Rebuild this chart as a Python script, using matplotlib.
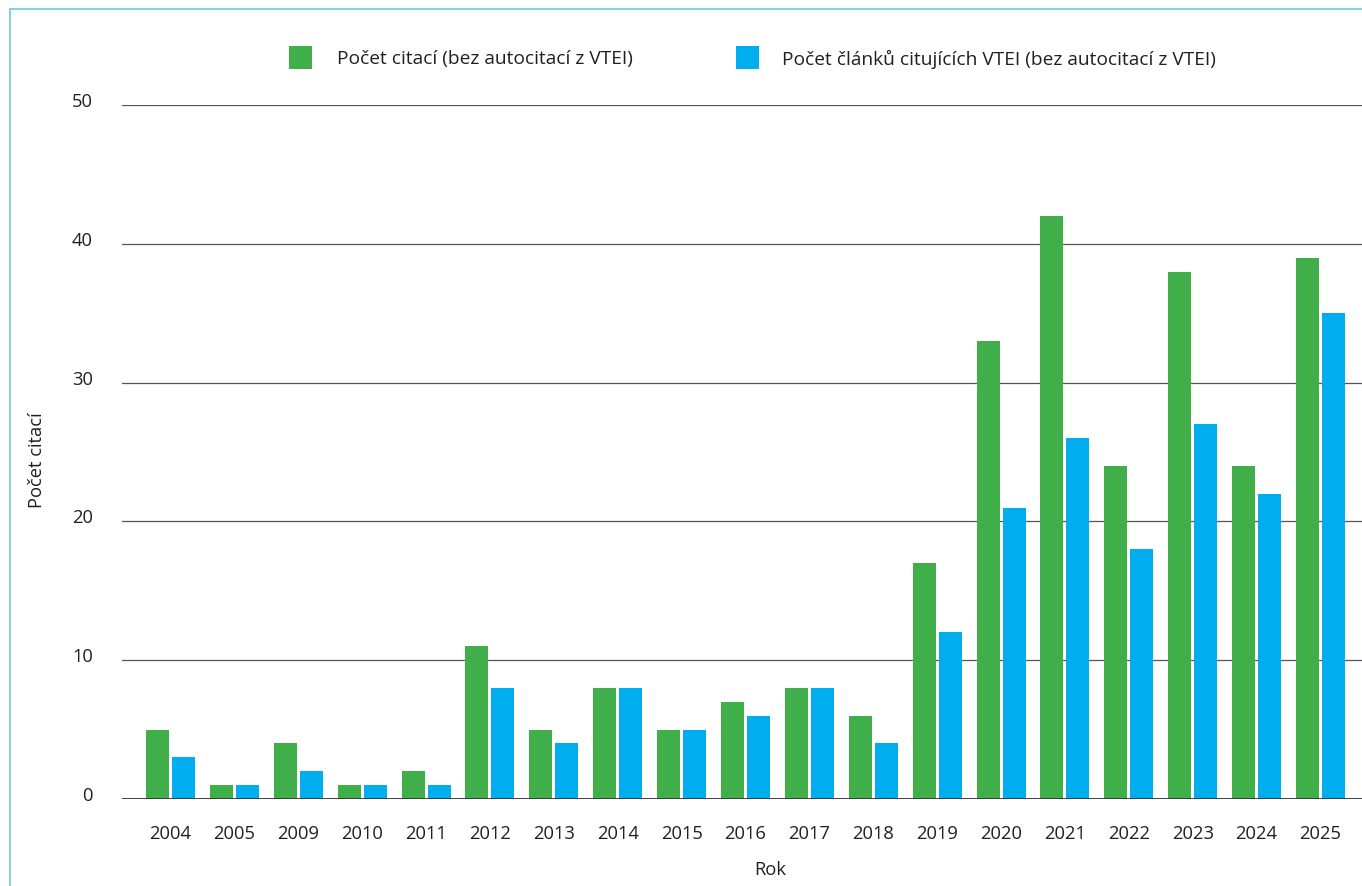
import matplotlib
matplotlib.use("Agg")
import matplotlib.pyplot as plt
import matplotlib.transforms as mtransforms
from matplotlib.patches import Rectangle
import numpy as np

years = ["2004", "2005", "2009", "2010", "2011", "2012", "2013", "2014", "2015", "2016",
         "2017", "2018", "2019", "2020", "2021", "2022", "2023", "2024", "2025"]
citations = [5, 1, 4, 1, 2, 11, 5, 8, 5, 7, 8, 6, 17, 33, 42, 24, 38, 24, 39]
citing_articles = [3, 1, 2, 1, 1, 8, 4, 8, 5, 6, 8, 4, 12, 21, 26, 18, 27, 22, 35]
series_labels = ["Počet citací (bez autocitací z VTEI)",
                 "Počet článků citujících VTEI (bez autocitací z VTEI)"]
y_ticks = [0, 10, 20, 30, 40, 50]

GREEN = "#40AE49"
BLUE = "#00AEEF"
TEXT = "#231F20"

plt.rcParams['font.family'] = ['Open Sans', 'DejaVu Sans']

W, H = 1362, 887
fig = plt.figure(figsize=(W / 100, H / 100), dpi=100)
fig.patch.set_facecolor("white")

# frame (teal border on left and top)
fig.add_artist(Rectangle((10 / W, -0.1), 1.2, (H - 10) / H + 0.1, transform=fig.transFigure,
                         fill=False, edgecolor="#86D2DE", linewidth=1.5))

left, right = 122, W
bottom, top = 800, 106
ax = fig.add_axes([left / W, (H - bottom) / H, (right - left) / W, (bottom - top) / H])

x = np.arange(len(years))
off = 0.2035
bw = 0.36
ax.bar(x - off, citations, width=bw, color=GREEN, zorder=3, label=series_labels[0])
ax.bar(x + off, citing_articles, width=bw, color=BLUE, zorder=3, label=series_labels[1])

ax.set_xlim(-0.759, 18.65)
ax.set_ylim(0, 50)
ax.set_yticks(y_ticks)
ax.set_yticklabels([str(t) for t in y_ticks])
ax.set_xticks(x)
ax.set_xticklabels(years)

for s in ax.spines.values():
    s.set_visible(False)
ax.grid(axis="y", color="#555555", linewidth=0.9, zorder=1)
ax.axhline(0, color="#333333", linewidth=2.0, zorder=4)
ax.tick_params(axis="both", length=0, labelsize=13.2, colors=TEXT)
ax.tick_params(axis="x", pad=18)
ax.tick_params(axis="y", pad=21)

off_y = mtransforms.ScaledTranslation(0, 6 / 100, fig.dpi_scale_trans)
for lbl in ax.get_yticklabels():
    lbl.set_transform(lbl.get_transform() + off_y)

fig.text(37 / W, 1 - 460 / H, "Počet citací", rotation=90, ha="center", va="center",
         fontsize=13.2, color=TEXT)
fig.text(770 / W, 1 - 870 / H, "Rok", ha="center", va="center", fontsize=13.2, color=TEXT)

# legend
sq = 23
for (sx, tx, col, lab) in [(289, 337, GREEN, series_labels[0]), (736, 782, BLUE, series_labels[1])]:
    fig.add_artist(Rectangle((sx / W, 1 - 70 / H), sq / W, sq / H, transform=fig.transFigure,
                             facecolor=col, edgecolor="none"))
    fig.text(tx / W, 1 - 59 / H, lab, ha="left", va="center", fontsize=13.8, color=TEXT)

fig.savefig("out.png", dpi=100)
